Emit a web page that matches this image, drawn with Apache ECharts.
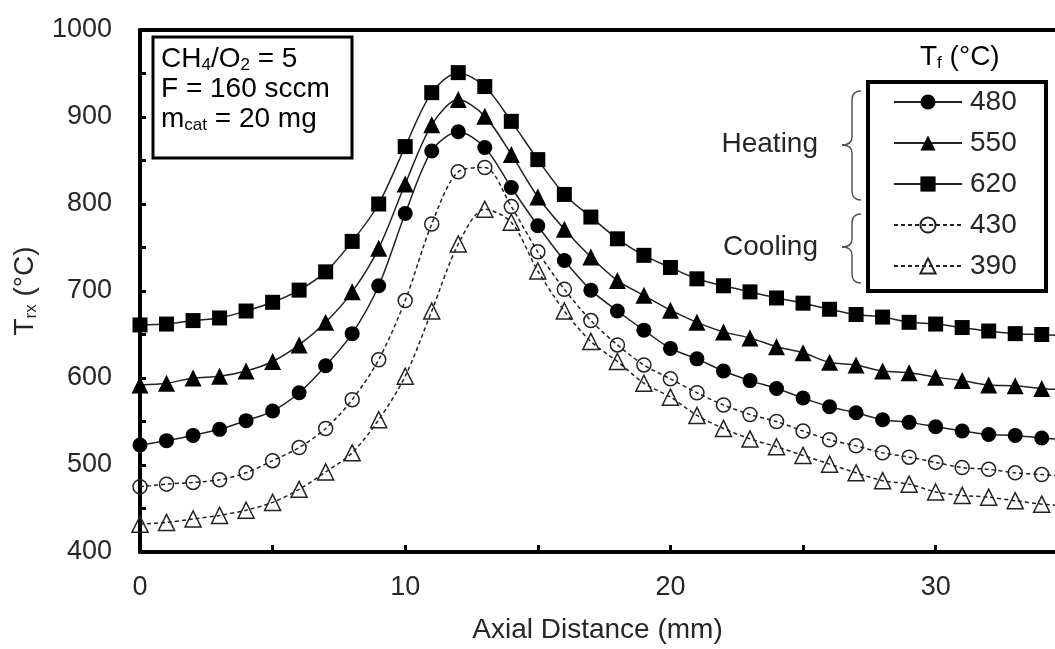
<!DOCTYPE html>
<html>
<head>
<meta charset="utf-8">
<script src="https://cdn.jsdelivr.net/npm/echarts@6/dist/echarts.min.js"></script>
<style>
  html, body { margin: 0; padding: 0; background: #fff; }
  #chart { width: 1055px; height: 649px; }
</style>
</head>
<body>
<div id="chart"></div>
<script>
// axial distance (mm)
var dist = [0, 1, 2, 3, 4, 5, 6, 7, 8, 9, 10, 11, 12, 13, 14, 15, 16, 17, 18, 19,
            20, 21, 22, 23, 24, 25, 26, 27, 28, 29, 30, 31, 32, 33, 34, 35];
// reactor temperature (°C) for each furnace temperature
var heat480 = [523, 528, 534, 541, 551, 562, 583, 614, 651, 706, 789, 861, 883, 865, 819, 775, 735, 701, 677, 655,
               634, 622, 608, 597, 588, 577, 567, 560, 552, 549, 544, 539, 535, 534, 531, 529];
var heat550 = [592, 594, 600, 602, 608, 619, 638, 664, 699, 749, 823, 891, 920, 901, 857, 808, 771, 739, 712, 695,
               678, 664, 653, 646, 636, 629, 618, 615, 608, 606, 601, 597, 592, 591, 588, 586];
var heat620 = [661, 662, 666, 669, 677, 687, 701, 722, 757, 800, 866, 928, 951, 935, 895, 851, 811, 785, 760, 741,
               727, 714, 706, 699, 692, 686, 679, 673, 670, 664, 662, 658, 654, 651, 650, 648];
var cool430 = [475, 478, 480, 483, 491, 505, 520, 542, 575, 621, 689, 777, 837, 842, 797, 745, 702, 666, 638, 615,
               599, 583, 569, 558, 550, 539, 529, 522, 514, 509, 503, 497, 495, 491, 489, 487];
var cool390 = [432, 434, 438, 442, 448, 457, 472, 492, 514, 552, 602, 677, 754, 794, 779, 723, 677, 642, 619, 594,
               578, 557, 542, 530, 521, 511, 501, 491, 482, 478, 469, 465, 463, 459, 455, 453];
var yTicks = [400, 500, 600, 700, 800, 900, 1000];
var xTicks = [0, 10, 20, 30];

var FONT = '"Liberation Sans", Arial, sans-serif';
var TXT = '#262626';

function pairs(ys) {
  var out = [];
  for (var i = 0; i < dist.length; i++) out.push([dist[i], ys[i]]);
  return out;
}

function mkSeries(name, ys, symbol, size, filled) {
  return {
    name: name,
    type: 'line',
    data: pairs(ys),
    smooth: 0.3,
    clip: true,
    symbol: symbol,
    symbolSize: size,
    showAllSymbol: true,
    lineStyle: { color: '#222', width: 1.5, type: filled ? 'solid' : [4, 3] },
    itemStyle: filled
      ? { color: '#000', borderColor: '#000', borderWidth: 0 }
      : { color: 'rgba(255,255,255,0)', borderColor: '#222', borderWidth: 1.5 },
    emphasis: { disabled: true }
  };
}

// curly brace "{" built from curves
function brace(xTip, xMid, xEnd, yTop, yTip, yBot) {
  var st = { stroke: '#555', lineWidth: 1.5, fill: null };
  return [
    { type: 'bezierCurve', shape: { x1: xEnd, y1: yTop, x2: xMid, y2: yTop + 9, cpx1: xMid, cpy1: yTop }, style: st },
    { type: 'line', shape: { x1: xMid, y1: yTop + 9, x2: xMid, y2: yTip - 8 }, style: st },
    { type: 'bezierCurve', shape: { x1: xMid, y1: yTip - 8, x2: xTip, y2: yTip, cpx1: xMid, cpy1: yTip }, style: st },
    { type: 'bezierCurve', shape: { x1: xTip, y1: yTip, x2: xMid, y2: yTip + 8, cpx1: xMid, cpy1: yTip }, style: st },
    { type: 'line', shape: { x1: xMid, y1: yTip + 8, x2: xMid, y2: yBot - 9 }, style: st },
    { type: 'bezierCurve', shape: { x1: xMid, y1: yBot - 9, x2: xEnd, y2: yBot, cpx1: xMid, cpy1: yBot }, style: st }
  ];
}

var rich = {
  a: { fontSize: 28, fontFamily: FONT, color: TXT, lineHeight: 30 },
  s: { fontSize: 17, fontFamily: FONT, color: TXT, lineHeight: 8, verticalAlign: 'bottom' }
};

var graphics = [
  { type: 'rect', shape: { x: 153, y: 37, width: 199, height: 121 },
    style: { fill: '#fff', stroke: '#000', lineWidth: 3 }, z: 10 },
  { type: 'text', x: 161, y: 44, z: 11,
    style: { text: '{a|CH}{s|4}{a|/O}{s|2}{a| = 5}\n{a|F = 160 sccm}\n{a|m}{s|cat}{a| = 20 mg}', rich: rich, lineHeight: 34 } },
  { type: 'rect', shape: { x: 868, y: 82, width: 178, height: 209 },
    style: { fill: '#fff', stroke: '#000', lineWidth: 4 }, z: 10 },
  { type: 'text', x: 920, y: 42, z: 11,
    style: { text: '{a|T}{s|f}{a| (°C)}', rich: rich } },
  { type: 'text', x: 818, y: 144, z: 11,
    style: { text: 'Heating', font: '28px ' + FONT, fill: TXT, align: 'right', verticalAlign: 'middle' } },
  { type: 'text', x: 818, y: 247, z: 11,
    style: { text: 'Cooling', font: '28px ' + FONT, fill: TXT, align: 'right', verticalAlign: 'middle' } }
].concat(brace(842, 852, 861, 91, 145, 200)).concat(brace(842, 852, 861, 214, 247, 283));

var option = {
  animation: false,
  backgroundColor: '#fff',
  grid: { left: 140, top: 30, right: 0, bottom: 94 },
  legend: {
    data: ['480', '550', '620', '430', '390'],
    orient: 'vertical',
    left: 893, top: 88, padding: 0,
    itemWidth: 68, itemHeight: 19, itemGap: 13,
    textStyle: { fontSize: 28, fontFamily: FONT, color: TXT, lineHeight: 28, padding: [0, 0, 0, 3] },
    z: 12
  },
  xAxis: [{
    type: 'value', min: 0, max: 34.5, interval: 5,
    name: 'Axial Distance (mm)', nameLocation: 'middle', nameGap: 64,
    nameTextStyle: { fontSize: 28, fontFamily: FONT, color: TXT },
    axisLine: { onZero: false, lineStyle: { color: '#000', width: 4 } },
    axisTick: { inside: true, length: 7, lineStyle: { color: '#000', width: 3 } },
    axisLabel: {
      margin: 22, fontSize: 27, fontFamily: FONT, color: TXT,
      showMaxLabel: false,
      formatter: function (v) { return xTicks.indexOf(v) >= 0 ? String(v) : ''; }
    },
    splitLine: { show: false }
  }, {
    // top frame line only
    type: 'value', position: 'top', min: 0, max: 34.5,
    axisLine: { onZero: false, lineStyle: { color: '#000', width: 4 } },
    axisTick: { show: false }, axisLabel: { show: false }, splitLine: { show: false }
  }],
  yAxis: {
    type: 'value', min: 400, max: 1000, interval: 50,
    name: '{a|T}{s|rx}{a| (°C)}', nameLocation: 'middle', nameGap: 100, nameRotate: 90,
    nameTextStyle: { rich: rich },
    axisLine: { onZero: false, lineStyle: { color: '#000', width: 4 } },
    axisTick: { inside: true, length: 6, lineStyle: { color: '#000', width: 3 } },
    axisLabel: {
      margin: 28, fontSize: 27, fontFamily: FONT, color: TXT,
      formatter: function (v) { return yTicks.indexOf(v) >= 0 ? String(v) : ''; }
    },
    splitLine: { show: false }
  },
  graphic: graphics,
  series: [
    mkSeries('480', heat480, 'circle', 15, true),
    mkSeries('550', heat550, 'triangle', 17, true),
    mkSeries('620', heat620, 'rect', 15, true),
    mkSeries('430', cool430, 'circle', 14, false),
    mkSeries('390', cool390, 'triangle', 16, false)
  ]
};

var myChart = echarts.init(document.getElementById('chart'));
myChart.setOption(option);
</script>
</body>
</html>
